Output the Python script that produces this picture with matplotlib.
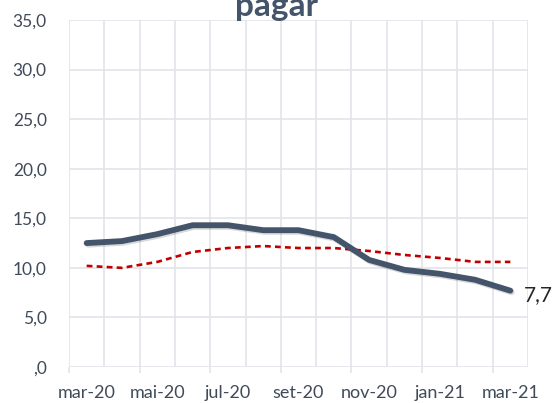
import matplotlib
matplotlib.use("Agg")
import matplotlib.pyplot as plt
import matplotlib.patheffects as pe
import numpy as np

# monthly series, mar-20 .. mar-21
months = ["mar-20", "abr-20", "mai-20", "jun-20", "jul-20", "ago-20", "set-20",
          "out-20", "nov-20", "dez-20", "jan-21", "fev-21", "mar-21"]
serie_a = [12.5, 12.7, 13.4, 14.3, 14.3, 13.8, 13.8, 13.1, 10.8, 9.8, 9.4, 8.8, 7.7]
serie_b = [10.2, 10.0, 10.6, 11.6, 12.0, 12.2, 12.0, 12.0, 11.7, 11.3, 11.0, 10.6, 10.6]
y_ticks = [0, 5, 10, 15, 20, 25, 30, 35]

plt.rcParams['font.family'] = ['Lato', 'DejaVu Sans']

slate = "#44546A"
red = "#C00000"
grid_c = "#E1E4EA"
txt_c = "#3F4A5A"

fig = plt.figure(figsize=(5.53, 4.03), dpi=100)
ax = fig.add_axes([69 / 553, 36 / 403, (528 - 69) / 553, (367 - 20) / 403])

x = np.arange(len(months))

# grid: vertical lines at category boundaries, horizontal at y ticks
for b in np.arange(-0.5, len(months)):
    ax.axvline(b, color=grid_c, lw=1.2, zorder=0)
for v in y_ticks:
    ax.axhline(v, color=grid_c, lw=1.2, zorder=0)

ax.plot(x, serie_b, color=red, lw=1.9, ls=(0, (2.2, 1.6)), zorder=3)
ax.plot(x, serie_a, color=slate, lw=4.2, solid_capstyle="round",
        solid_joinstyle="round", zorder=4,
        path_effects=[pe.SimpleLineShadow(offset=(1.0, -1.2), alpha=0.15,
                                          shadow_color="black"),
                      pe.Normal()])

ax.annotate("7,7", (x[-1], serie_a[-1]), xytext=(10, -3),
            textcoords="offset points", va="center", ha="left",
            fontsize=15, color="#262626")

ax.set_xlim(-0.5, len(months) - 0.5)
ax.set_ylim(0, 35)

ax.set_yticks(y_ticks)
ax.set_yticklabels([(f"{v:.1f}".replace(".", ",") if v else ",0") for v in y_ticks])
ax.tick_params(axis="y", length=0, pad=16, labelsize=12.5, labelcolor=txt_c)

# tick marks at every second boundary, labels at every second month
ax.set_xticks(np.arange(-0.5, len(months), 2))
ax.set_xticklabels([])
ax.tick_params(axis="x", which="major", length=4, color=grid_c, width=1.2)
ax.set_xticks(x[::2], minor=True)
ax.set_xticklabels(months[::2], minor=True)
ax.tick_params(axis="x", which="minor", length=0, pad=13, labelsize=13,
               labelcolor=txt_c)

for s in ax.spines.values():
    s.set_visible(False)

fig.text(0.5, 1 - 16 / 403, "pagar", ha="center", va="baseline",
         fontsize=24, fontweight="bold", color=slate)

fig.savefig("out.png", dpi=100)
